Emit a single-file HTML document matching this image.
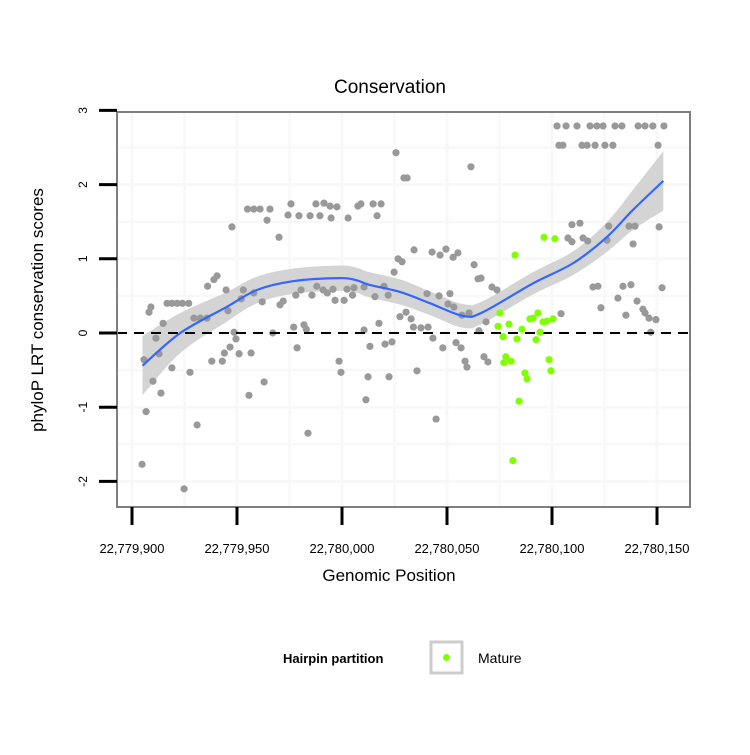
<!DOCTYPE html>
<html><head><meta charset="utf-8"><style>
body{margin:0;background:#fff}
svg text{font-family:"Liberation Sans",sans-serif}
</style></head><body>
<svg id="chart" width="750" height="750" viewBox="0 0 750 750" xmlns="http://www.w3.org/2000/svg">
<rect width="750" height="750" fill="#fff"/>
<text x="390" y="93" font-size="19" text-anchor="middle">Conservation</text>
<g id="grid"></g>
<g id="band"></g>
<g id="pts"></g>
<g id="axes"></g>
<text x="389" y="581" font-size="17" text-anchor="middle">Genomic Position</text>
<text transform="translate(43,310) rotate(-90)" font-size="17" text-anchor="middle">phyloP LRT conservation scores</text>
<g>
<text x="283" y="663" font-size="13" font-weight="bold">Hairpin partition</text>
<rect x="431" y="642" width="31" height="31" fill="#fff" stroke="#cccccc" stroke-width="3"/>
<circle cx="446.5" cy="657.5" r="3.5" fill="#7fff00"/>
<text x="478" y="663" font-size="14">Mature</text>
</g>
</svg>
<script>
const BASE = 22779900;
const grayPos = [4.8,6.7,5.7,10,13.8,12.9,11.4,8.1,9,14.8,16.7,19,21.5,24,27,19,24.8,27.6,31,29.5,32.5,35.7,36,40.5,39,38,43,44,46.7,45.7,44.8,47.6,48.6,49.5,51,52,53,55.7,56.7,55,58,61,64.3,65.7,70,58,62,62.9,67,70.5,72,74.3,75.7,79.5,84.8,87.6,89.5,91.4,94.3,97.6,94.8,102.9,107.6,109,114.8,118.6,116.7,125.7,129.5,77,81.9,83,78.6,83.8,78,80.5,85.7,88,91,93,95.7,96.7,101,102.4,105,105.7,110.5,115.7,120,122,98.6,99.5,110.5,113.3,112.4,111.4,117.6,120.5,123.8,122.4,124.8,126.7,128.6,127.6,131,161.4,134.3,142.9,146.7,149.5,152.9,155.2,162.9,164.8,166.2,171.4,173.8,140.5,146.2,151.4,150.5,153.3,157.1,160.5,130.5,132.9,134,137.6,141,143.3,148,154.3,156.7,158.6,159.5,167.6,169.5,165.2,168.6,135.7,144.8,204.3,209.5,213.3,207.6,209.5,214.8,217,219.5,221.9,223.3,227,226.2,231.4,233.8,237.6,235.2,236.7,239.5,238.6,240.5,243.3,244.3,246.2,249.5,247,251,252.4,250.5,202.4,206.7,211.9,218.1,221.4,224.3,230,233.3,241,244.3,248,253.3,203.3,205.2,214.3,216.7,220.5,225.2,229];
const grayScore = [-1.77,-1.06,-0.36,-0.65,-0.81,-0.28,-0.07,0.28,0.35,0.13,0.4,0.4,0.4,0.4,0.4,-0.47,-2.1,-0.53,-1.24,0.2,0.2,0.2,0.63,0.77,0.72,-0.38,-0.38,-0.27,-0.19,0.3,0.58,1.43,0.01,-0.08,-0.28,0.46,0.58,-0.84,-0.27,1.67,1.67,1.67,1.52,1.67,1.29,0.54,0.42,-0.66,0,0.38,0.43,1.59,1.74,1.58,1.58,1.74,1.58,1.75,1.71,1.7,1.55,1.55,1.71,1.74,1.74,1.74,1.58,2.43,2.09,0.08,0.11,0.05,-0.2,-1.35,0.51,0.58,0.51,0.63,0.58,0.54,0.59,0.44,0.44,0.59,0.51,0.61,0.62,0.49,0.63,0.51,-0.38,-0.53,0.04,-0.18,-0.59,-0.9,0.13,-0.15,-0.12,-0.59,0.82,1.0,0.96,0.22,2.09,2.24,1.12,1.09,1.05,1.13,1.02,1.08,0.92,0.73,0.74,0.62,0.58,0.53,0.5,0.53,0.39,0.35,0.24,0.27,0.28,0.19,0.08,0.07,0.08,-0.07,-0.2,-0.13,-0.2,-0.38,-0.46,-0.32,-0.39,0.03,0.15,-0.51,-1.16,0.26,1.46,1.48,1.28,1.23,1.28,1.24,0.62,0.63,0.34,1.44,1.25,0.47,0.63,0.65,0.24,1.44,1.44,1.2,0.43,0.32,0.27,0.2,0.18,0.01,1.43,0.61,2.53,2.79,2.79,2.79,2.79,2.79,2.79,2.79,2.79,2.79,2.79,2.79,2.79,2.53,2.53,2.53,2.53,2.53,2.53,2.53];
const greenPos = [196.2,201.4,182.4,175.2,174.3,179.5,176.7,183.3,185.7,189.5,191,193.3,195.7,197.6,200.5,194.3,192.4,178,177.1,180.5,187.1,188.1,198.6,199.5,184.3,181.4];
const greenScore = [1.29,1.27,1.05,0.27,0.09,0.12,-0.05,-0.08,0.05,0.19,0.2,0.27,0.15,0.16,0.19,0.01,-0.09,-0.32,-0.4,-0.38,-0.54,-0.62,-0.36,-0.51,-0.92,-1.72];
const fitPos = [5,23,45,59.5,77,99,107,113,128,142,157.6,167,191,210,226,238.6,253];
const fitVal = [-0.44,0,0.35,0.58,0.7,0.74,0.71,0.65,0.55,0.4,0.23,0.28,0.67,0.94,1.29,1.66,2.05];
const fitSe = [0.4,0.27,0.2,0.18,0.17,0.17,0.17,0.17,0.17,0.16,0.16,0.15,0.15,0.16,0.2,0.27,0.4];
const xTicks = [0,50,100,150,200,250];
const xTickLabels = ["22,779,900","22,779,950","22,780,000","22,780,050","22,780,100","22,780,150"];
const yTicks = [-2,-1,0,1,2,3];

const L=117,R=690,T=112,B=507;
const X = p => 132 + p*2.1;
const Y = v => 333 - v*74.2;
const NS="http://www.w3.org/2000/svg";
function mk(tag, attrs, parent){const e=document.createElementNS(NS,tag);for(const k in attrs)e.setAttribute(k,attrs[k]);parent.appendChild(e);return e;}
const grid=document.getElementById('grid'), band=document.getElementById('band'), pts=document.getElementById('pts'), axes=document.getElementById('axes');

const bg = mk('rect',{x:L,y:T,width:R-L,height:B-T,fill:'#fff'},grid);


for(let p=-25;p<=275;p+=25){const x=X(p);if(x<=L||x>=R)continue;
 const g=mk('line',{x1:x,x2:x,y1:T,y2:B,stroke:'#f8f8f8','stroke-width':(p%50===0)?3:2.5},grid);
 
 }
for(let v=-2.5;v<=3;v+=0.5){const y=Y(v);if(y<=T||y>=B)continue;
 const g=mk('line',{x1:L,x2:R,y1:y,y2:y,stroke:'#f8f8f8','stroke-width':(v%1===0)?3:2.5},grid);
 
 }

function smooth(ptsArr){let d='M'+ptsArr[0][0]+','+ptsArr[0][1];
 for(let i=0;i<ptsArr.length-1;i++){const p0=ptsArr[Math.max(0,i-1)],p1=ptsArr[i],p2=ptsArr[i+1],p3=ptsArr[Math.min(ptsArr.length-1,i+2)];
  d+=' C'+(p1[0]+(p2[0]-p0[0])/6)+','+(p1[1]+(p2[1]-p0[1])/6)+' '+(p2[0]-(p3[0]-p1[0])/6)+','+(p2[1]-(p3[1]-p1[1])/6)+' '+p2[0]+','+p2[1];}
 return d;}
const up=fitPos.map((p,i)=>[X(p),Y(fitVal[i]+fitSe[i])]);
const lo=fitPos.map((p,i)=>[X(p),Y(fitVal[i]-fitSe[i])]).reverse();
const bandD = smooth(up)+' L'+lo[0][0]+','+lo[0][1]+smooth(lo).replace(/^M[^C]*/,'')+' Z';
const bp=mk('path',{d:bandD,fill:'#d4d4d4'},band);



grayPos.forEach((p,i)=>{const c=mk('circle',{cx:X(p),cy:Y(grayScore[i]),r:3.6,fill:'#999999'},pts);
 
 });

const z=mk('line',{x1:L,x2:R,y1:Y(0),y2:Y(0),stroke:'#000','stroke-width':2,'stroke-dasharray':'10,7'},pts);



const fl=mk('path',{d:smooth(fitPos.map((p,i)=>[X(p),Y(fitVal[i])])),fill:'none',stroke:'#3366ff','stroke-width':2.2},pts);



greenPos.forEach((p,i)=>{const c=mk('circle',{cx:X(p),cy:Y(greenScore[i]),r:3.6,fill:'#7fff00'},pts);
 
 });

const fr=mk('rect',{x:L,y:T,width:R-L,height:B-T,fill:'none',stroke:'#7f7f7f','stroke-width':2},axes);


xTicks.forEach((p,i)=>{const x=X(p);
 const t=mk('line',{x1:x,x2:x,y1:B,y2:525,stroke:'#000','stroke-width':3},axes);
 
 
 const l=mk('text',{x:x,y:553,'font-size':13,'text-anchor':'middle'},axes);l.textContent=xTickLabels[i];
 
 });
yTicks.forEach(v=>{const y=Y(v);
 const t=mk('line',{x1:99,x2:L,y1:y,y2:y,stroke:'#000','stroke-width':3},axes);
 
 
 const l=mk('text',{transform:'translate(87,'+y+') rotate(-90)','font-size':12,'text-anchor':'middle'},axes);l.textContent=String(v);
 
 });
</script>
</body></html>
